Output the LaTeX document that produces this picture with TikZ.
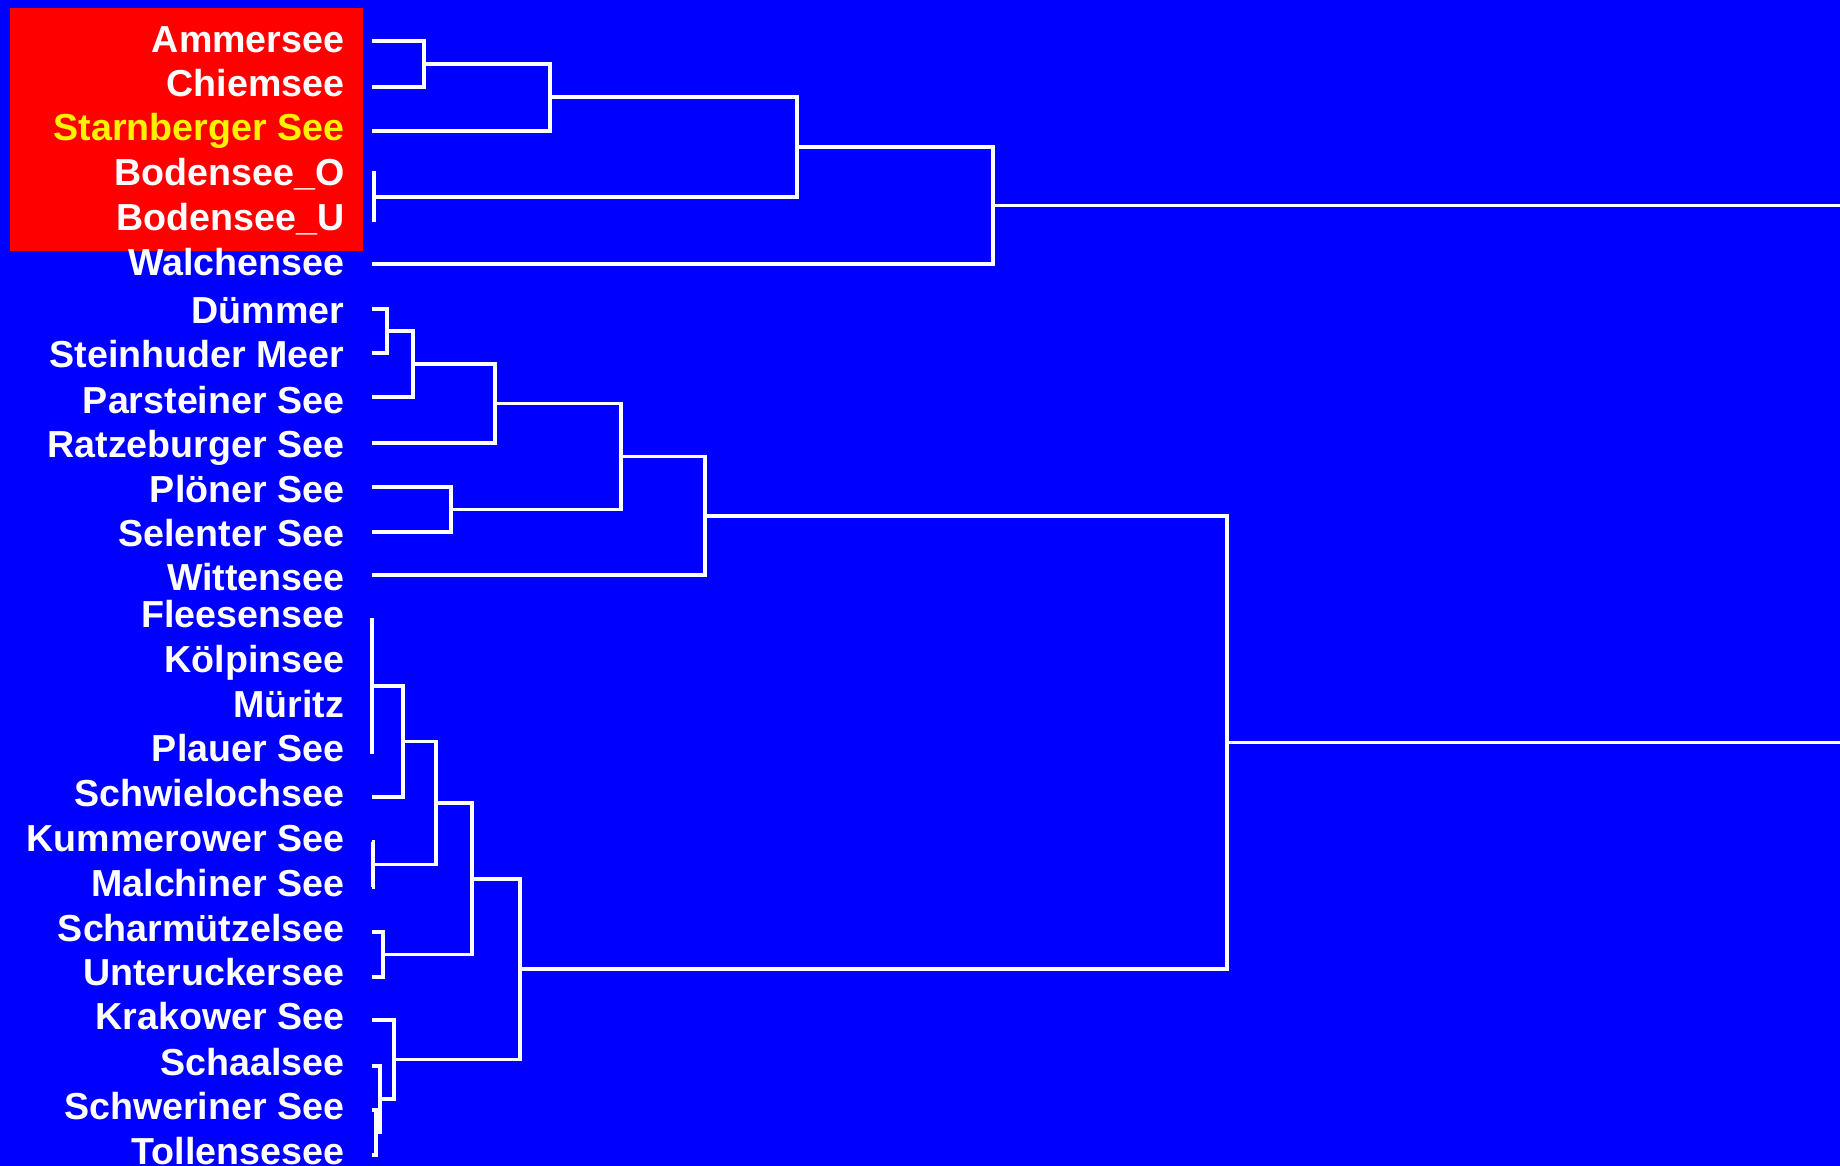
\documentclass[tikz,border=0pt]{standalone}
\usepackage{fontspec}
\setmainfont{Liberation Sans}

\begin{document}
\begin{tikzpicture}[x=0.1mm, y=-0.1mm, font=\bfseries\fontsize{10.7}{12}\selectfont,
  lake/.style={anchor=base east, inner sep=0pt, text=#1},
  lake/.default=white,
  link/.style={draw=white, line width=1.1pt}]
\fill[blue] (0,0) rectangle (1840,1166);
\useasboundingbox (0,0) rectangle (1840,1166);
\fill[red] (10,8) rectangle (363,251);
\coordinate (edge) at (1840,0);
% leaves: line y / text baseline / name / text
\foreach \y/\b/\n/\t in {41/53/amm/Ammersee, 87/97/chi/Chiemsee, 173/186/bdo/Bodensee\_O,
  220/231/bdu/Bodensee\_U, 264/276/wal/Walchensee, 309/324/due/Dümmer, 353/368/ste/Steinhuder Meer,
  397/414/par/Parsteiner See, 443/458/rat/Ratzeburger See, 487/503/ploe/Plöner See,
  532/547/sel/Selenter See, 575/591/wit/Wittensee, 618/628/fle/Fleesensee, 662/673/koe/Kölpinsee,
  707/718/mue/Müritz, 754/762/pla/Plauer See, 797/807/swl/Schwielochsee, 842/851/kum/Kummerower See,
  887/896/mal/Malchiner See, 932/941/scm/Scharmützelsee, 977/985/unt/Unteruckersee,
  1020/1029/kra/Krakower See, 1066/1075/sca/Schaalsee, 1110/1119/swe/Schweriner See,
  1155/1164/tol/Tollensesee}
  {\node[lake] (t\n) at (345,\b) {\t}; \coordinate (\n) at (372,\y);}
\node[lake=yellow] (tsta) at (345,141) {Starnberger See};
\coordinate (sta) at (372,131);
% joins
\foreach \j/\x/\y in {ac/424/64, acs/550/97, bod/374/197, acsb/797/147, top/993/205.5,
  ds/387/331, dsp/413/364, dspr/495/403.5, ps/451/509.5, gfour/621/456.5, gfive/705/516,
  fkmp/372/686, fkmps/403/741.5, km/373/864.5, gseven/436/803, su/383/954.5, gnine/472/879,
  st/376/1132.5, sst/380/1099, ksst/394/1059.5, gthirteen/520/969, rootb/1227/742.5}
  \coordinate (\j) at (\x,\y);
\foreach \a/\j/\b in {amm/ac/chi, ac/acs/sta, bdo/bod/bdu, acs/acsb/bod, acsb/top/wal,
  due/ds/ste, ds/dsp/par, dsp/dspr/rat, ploe/ps/sel, dspr/gfour/ps, gfour/gfive/wit,
  fle/fkmp/pla, fkmp/fkmps/swl, kum/km/mal, fkmps/gseven/km, scm/su/unt, gseven/gnine/su,
  swe/st/tol, sca/sst/st, kra/ksst/sst, gnine/gthirteen/ksst, gfive/rootb/gthirteen}
  \draw[link] (\a) -| (\j) |- (\b);
\draw[link] (top) -- (top -| edge);
\draw[link] (rootb) -- (rootb -| edge);
\end{tikzpicture}
\end{document}
